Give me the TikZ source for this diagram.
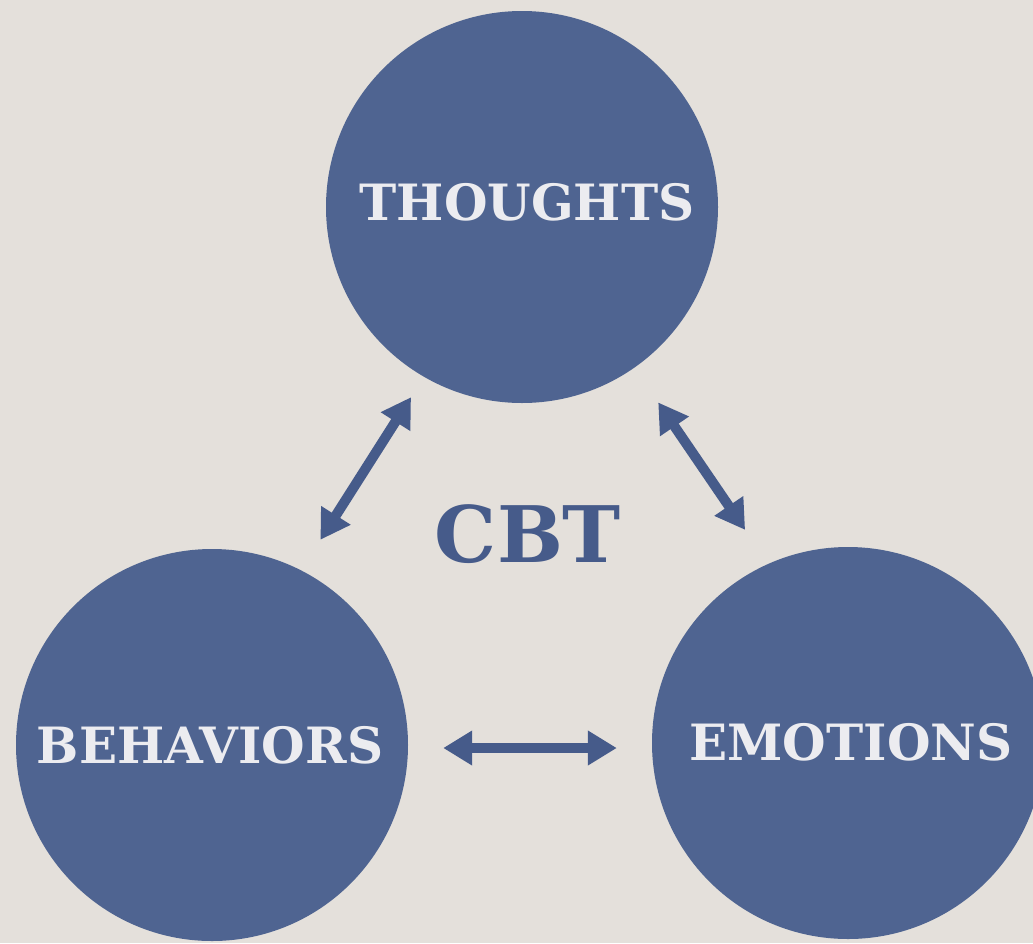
\documentclass[tikz,border=0pt]{standalone}
\usepackage{fontspec}
\setmainfont{DejaVu Serif}
\usetikzlibrary{arrows.meta}
\definecolor{bgc}{RGB}{228,224,219}
\definecolor{circc}{RGB}{79,100,145}
\definecolor{arrc}{RGB}{70,91,138}
\definecolor{txtc}{RGB}{236,236,240}
\tikzset{
  bubble/.style={circle, fill=circc, minimum size=392pt, inner sep=0pt},
  bubbletext/.style={text=txtc, font=\fontsize{50}{52}\selectfont\bfseries, inner sep=0pt},
  arr/.style={draw=arrc, line width=10pt, {Triangle[width=33pt,length=29pt]}-{Triangle[width=33pt,length=29pt]}},
}
\begin{document}
\begin{tikzpicture}[x=1pt,y=-1pt]
\fill[bgc] (0,0) rectangle (1033,943);
\useasboundingbox (0,0) rectangle (1033,943);
\node[bubble] (T) at (522,207) {};
\node[bubble] (B) at (212,745) {};
\node[bubble] (E) at (848,743) {};
\node[bubbletext] (tt) at (527,202) {THOUGHTS};
\node[bubbletext] (bt) at (210,745) {BEHAVIORS};
\node[bubbletext] (et) at (851,742) {EMOTIONS};
\node[text=arrc, font=\fontsize{78}{80}\selectfont\bfseries, inner sep=0pt] (cbt) at (528,534) {CBT};
\draw[arr, shorten <=24pt, shorten >=36pt] (T.240) -- (B.63);
\draw[arr, shorten <=42pt, shorten >=41pt] (T.305) -- (E.114.5);
\draw[arr, shorten <=35pt, shorten >=35pt] ([yshift=-3pt]B.east) -- ([yshift=-5pt]E.west);
\end{tikzpicture}
\end{document}
